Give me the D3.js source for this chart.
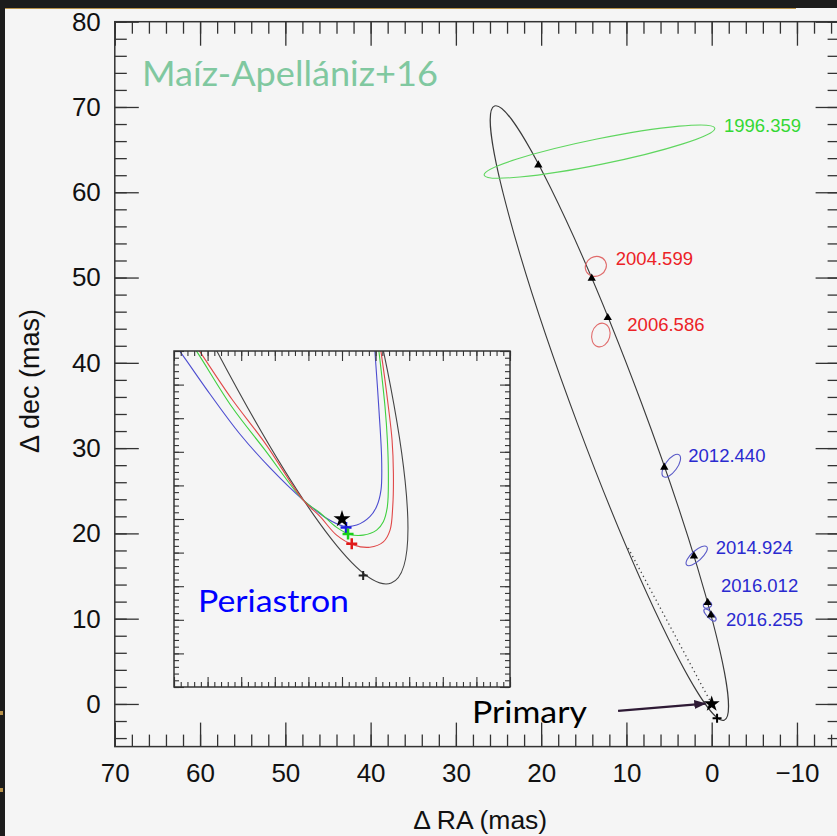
<!DOCTYPE html>
<html>
<head>
<meta charset="utf-8">
<script src="https://cdn.jsdelivr.net/npm/d3@7"></script>
<style>
body { margin: 0; background: #1c1c1c; }
svg { display: block; }
</style>
</head>
<body>
<script>
// apparent orbit of the secondary (mas, relative to primary)
const orbitCenter = [12.0, 34.11];   // [dRA, ddec]
const orbitAxes = [38.45, 3.94];     // semi-major, semi-minor
const orbitAngle = 69.5;             // deg, from +RA towards +dec

// measured positions with their error ellipses
const epochs = ["1996.359", "2004.599", "2006.586", "2012.440", "2014.924", "2016.012", "2016.255"];
const measRA = [13.16, 13.59, 13.0, 4.74, 1.76, 0.49, 0.2];
const measDec = [64.77, 51.31, 43.26, 27.93, 17.37, 11.6, 10.44];
const errA = [13.8, 1.27, 1.41, 1.58, 1.59, 0.5, 0.94];
const errB = [1.5, 1.14, 1.06, 0.7, 0.6, 0.33, 0.35];
const errAngle = [-11.5, -30, -75, -54, -42, -20, 45];

// orbit positions predicted for the same epochs
const predRA = [20.33, 14.07, 12.19, 5.56, 2.08, 0.47, 0.08];
const predDec = [63.19, 49.91, 45.29, 27.75, 17.35, 11.88, 10.43];

const primary = [0, 0];
const periastron = [-0.63, -1.68];
const nodeEnd = [9.8, 18.3];

// inset: periastron region of alternative orbit solutions
const insetBlue = [[5.3, 5.6], [4.82, 4.98], [3.93, 3.72], [3.04, 2.53], [2.14, 1.52], [1.16, 0.57], [0.46, 0.02],
  [-0.04, -0.21], [-0.44, -0.18], [-0.83, 0.07], [-1.03, 0.37], [-1.16, 0.86], [-1.18, 1.76], [-1.10, 3.24],
  [-0.98, 4.98], [-0.93, 5.6]];
const insetGreen = [[4.75, 5.6], [4.32, 4.98], [3.28, 3.34], [2.29, 2.05], [1.16, 0.57], [0.65, 0.18], [0.16, -0.25],
  [-0.24, -0.46], [-0.63, -0.48], [-1.03, -0.33], [-1.23, -0.08], [-1.35, 0.37], [-1.38, 1.36], [-1.35, 2.35],
  [-1.28, 3.34], [-1.10, 4.98], [-1.02, 5.6]];
const insetRed = [[4.65, 5.6], [4.23, 4.98], [3.28, 3.57], [2.29, 2.26], [1.16, 0.57], [0.65, 0.07], [0.16, -0.48],
  [-0.34, -0.77], [-0.83, -0.84], [-1.23, -0.68], [-1.43, -0.33], [-1.51, 0.37], [-1.53, 1.36], [-1.49, 2.35],
  [-1.38, 3.34], [-1.16, 4.98], [-1.06, 5.6]];
const insetPeri = [[-0.12, -0.25], [-0.18, -0.45], [-0.29, -0.74]]; // blue, green, red

const W = 837, H = 836;
const axisFont = "'Liberation Sans', Arial, sans-serif";
const noteFont = "Lato, 'Open Sans', sans-serif";

function epochColor(e) {
    const yr = parseFloat(e);
    if (yr < 2000) return { line: "#5fd65f", text: "#34d834" };
    if (yr < 2010) return { line: "#e06a6a", text: "#ec2226" };
    return { line: "#5a5ac8", text: "#2a2ad0" };
}

const svg = d3.select("body")
    .append("svg")
    .attr("width", W)
    .attr("height", H);

// slide background
svg.append("rect").attr("width", W).attr("height", H).attr("fill", "#f5f5f5");
svg.append("rect").attr("width", W).attr("height", 8).attr("fill", "#1c1c1c");
svg.append("rect").attr("width", 5).attr("height", H).attr("fill", "#1c1c1c");
svg.append("line").attr("x1", 5).attr("x2", 796).attr("y1", 8.5).attr("y2", 8.5)
    .attr("stroke", "#b8924a").attr("stroke-width", 1.2);

const defs = svg.append("defs");
defs.append("marker")
    .attr("id", "arrow")
    .attr("markerUnits", "userSpaceOnUse")
    .attr("markerWidth", 12).attr("markerHeight", 10)
    .attr("refX", 11).attr("refY", 4.5)
    .attr("orient", "auto")
    .append("path").attr("d", "M0,0L12,4.5L0,9z").attr("fill", "#2e1a35");

// main scales
const x = d3.scaleLinear().domain([70, -15]).range([114.8, 839.6]);
const y = d3.scaleLinear().domain([-5, 80]).range([746.6, 21.7]);

const majorX = d3.range(70, -11, -10);
const minorX = d3.range(-14, 71, 2);
const majorY = d3.range(0, 81, 10);
const minorY = d3.range(-4, 81, 2);

function styleAxis(g, size) {
    g.select(".domain").remove();
    g.selectAll(".tick line").attr("stroke", "#333").attr("stroke-width", 1.3);
    g.selectAll("text").attr("fill", "#111").style("font-family", axisFont).style("font-size", size);
}

const [x0, x1] = x.range(), [y0, y1] = y.range();

// minor ticks on all sides
svg.append("g").attr("transform", `translate(0,${y0})`)
    .call(d3.axisBottom(x).tickValues(minorX).tickSize(-12).tickFormat("")).call(styleAxis, "0px");
svg.append("g").attr("transform", `translate(0,${y1})`)
    .call(d3.axisTop(x).tickValues(minorX).tickSize(-12).tickFormat("")).call(styleAxis, "0px");
svg.append("g").attr("transform", `translate(${x0},0)`)
    .call(d3.axisLeft(y).tickValues(minorY).tickSize(-12).tickFormat("")).call(styleAxis, "0px");
svg.append("g").attr("transform", `translate(${x1},0)`)
    .call(d3.axisRight(y).tickValues(minorY).tickSize(-12).tickFormat("")).call(styleAxis, "0px");

// major ticks with labels
svg.append("g").attr("transform", `translate(0,${y0})`)
    .call(d3.axisBottom(x).tickValues(majorX).tickSize(-24).tickPadding(16.5)).call(styleAxis, "26px");
svg.append("g").attr("transform", `translate(0,${y1})`)
    .call(d3.axisTop(x).tickValues(majorX).tickSize(-24).tickFormat("")).call(styleAxis, "0px");
svg.append("g").attr("transform", `translate(${x0},0)`)
    .call(d3.axisLeft(y).tickValues(majorY).tickSize(-24).tickPadding(14)).call(styleAxis, "26px");
svg.append("g").attr("transform", `translate(${x1},0)`)
    .call(d3.axisRight(y).tickValues(majorY).tickSize(-24).tickFormat("")).call(styleAxis, "0px");

svg.append("rect")
    .attr("x", x0).attr("y", y1)
    .attr("width", x1 - x0).attr("height", y0 - y1)
    .attr("fill", "none").attr("stroke", "#333").attr("stroke-width", 1.5);

// axis titles
svg.append("text")
    .attr("x", (x0 + x1) / 2 + 3).attr("y", 829)
    .attr("text-anchor", "middle")
    .style("font-family", axisFont).style("font-size", "26.5px").attr("fill", "#111")
    .text("Δ RA (mas)");
svg.append("text")
    .attr("transform", "translate(39,381) rotate(-90)")
    .attr("text-anchor", "middle")
    .style("font-family", axisFont).style("font-size", "27px").attr("fill", "#111")
    .text("Δ dec (mas)");

// orbit
function ellipse(g, sx, sy, c, a, b, ang) {
    const s = Math.abs(sx(1) - sx(0));
    return g.append("ellipse")
        .attr("cx", sx(c[0])).attr("cy", sy(c[1]))
        .attr("rx", a * s).attr("ry", b * s)
        .attr("transform", `rotate(${ang},${sx(c[0])},${sy(c[1])})`)
        .attr("fill", "none");
}

ellipse(svg, x, y, orbitCenter, orbitAxes[0], orbitAxes[1], orbitAngle)
    .attr("stroke", "#3a3a3a").attr("stroke-width", 1.1);

// line from primary
svg.append("line")
    .attr("x1", x(primary[0])).attr("y1", y(primary[1]))
    .attr("x2", x(nodeEnd[0])).attr("y2", y(nodeEnd[1]))
    .attr("stroke", "#444").attr("stroke-width", 1.3).attr("stroke-dasharray", "1.3,3.2");

// error ellipses and epoch labels
const labelOffset = [[124.5, -19.5], [20, -1], [26.5, -4.3], [17, -3.5], [19, -2], [13.5, -13.3], [16, 11.3]];
epochs.forEach((e, i) => {
    const col = epochColor(e);
    ellipse(svg, x, y, [measRA[i], measDec[i]], errA[i], errB[i], errAngle[i])
        .attr("stroke", col.line).attr("stroke-width", 1.1);
    svg.append("text")
        .attr("x", x(measRA[i]) + labelOffset[i][0])
        .attr("y", y(measDec[i]) + labelOffset[i][1])
        .style("font-family", axisFont).style("font-size", "18.5px")
        .attr("fill", col.text)
        .text(e);
});

// predicted positions
svg.selectAll(".pred")
    .data(predRA)
    .enter()
    .append("path")
    .attr("class", "pred")
    .attr("d", d3.symbol(d3.symbolTriangle, 30))
    .attr("transform", (d, i) => `translate(${x(d)},${y(predDec[i])})`)
    .attr("fill", "#000");

const plus = r => `M${-r},0H${r}M0,${-r}V${r}`;

svg.append("path")
    .attr("d", plus(4.5))
    .attr("transform", `translate(${x(periastron[0])},${y(periastron[1])})`)
    .attr("stroke", "#000").attr("stroke-width", 2);

svg.append("path")
    .attr("d", d3.symbol(d3.symbolStar, 80))
    .attr("transform", `translate(${x(primary[0])},${y(primary[1])})`)
    .attr("fill", "#000");

// Primary annotation
svg.append("line")
    .attr("x1", x(10.98)).attr("y1", y(-0.82))
    .attr("x2", x(0.75)).attr("y2", y(0.05))
    .attr("stroke", "#2e1a35").attr("stroke-width", 2.2)
    .attr("marker-end", "url(#arrow)");
svg.append("text")
    .attr("x", 472).attr("y", 723)
    .attr("textLength", 115).attr("lengthAdjust", "spacingAndGlyphs")
    .style("font-family", noteFont).style("font-size", "31px")
    .attr("fill", "#000")
    .text("Primary");

svg.append("text")
    .attr("x", 142).attr("y", 86)
    .attr("textLength", 296).attr("lengthAdjust", "spacingAndGlyphs")
    .style("font-family", noteFont).style("font-size", "35px")
    .attr("fill", "#80c8a0")
    .text("Maíz-Apellániz+16");

// ---- inset ----
const xi = d3.scaleLinear().domain([5, -5]).range([174, 510]);
const yi = d3.scaleLinear().domain([-5, 5]).range([687, 351]);
const [xi0, xi1] = xi.range(), [yi0, yi1] = yi.range();

const inset = svg.append("g");
inset.append("rect")
    .attr("x", xi0).attr("y", yi1).attr("width", xi1 - xi0).attr("height", yi0 - yi1)
    .attr("fill", "#f5f5f5");

defs.append("clipPath").attr("id", "insetClip")
    .append("rect")
    .attr("x", xi0).attr("y", yi1).attr("width", xi1 - xi0).attr("height", yi0 - yi1);

const curves = inset.append("g").attr("clip-path", "url(#insetClip)");
ellipse(curves, xi, yi, orbitCenter, orbitAxes[0], orbitAxes[1], orbitAngle)
    .attr("stroke", "#444").attr("stroke-width", 1.1);

const line = d3.line()
    .x(d => xi(d[0]))
    .y(d => yi(d[1]))
    .curve(d3.curveCatmullRom.alpha(0.5));

const insetColors = ["#4c4cd0", "#3fd03f", "#e04848"];
[insetBlue, insetGreen, insetRed].forEach((c, i) => {
    curves.append("path")
        .attr("d", line(c))
        .attr("fill", "none")
        .attr("stroke", insetColors[i])
        .attr("stroke-width", 1.1);
});

const insetMajor = d3.range(-5, 5.01, 1);
const insetMinor = d3.range(-5, 5.01, 0.2);
[[insetMinor, 5], [insetMajor, 10]].forEach(([vals, len]) => {
    inset.append("g").attr("transform", `translate(0,${yi0})`)
        .call(d3.axisBottom(xi).tickValues(vals).tickSize(-len).tickFormat("")).call(styleAxis, "0px");
    inset.append("g").attr("transform", `translate(0,${yi1})`)
        .call(d3.axisTop(xi).tickValues(vals).tickSize(-len).tickFormat("")).call(styleAxis, "0px");
    inset.append("g").attr("transform", `translate(${xi0},0)`)
        .call(d3.axisLeft(yi).tickValues(vals).tickSize(-len).tickFormat("")).call(styleAxis, "0px");
    inset.append("g").attr("transform", `translate(${xi1},0)`)
        .call(d3.axisRight(yi).tickValues(vals).tickSize(-len).tickFormat("")).call(styleAxis, "0px");
});
inset.selectAll(".tick line").attr("stroke-width", 1.1);

inset.append("rect")
    .attr("x", xi0).attr("y", yi1).attr("width", xi1 - xi0).attr("height", yi0 - yi1)
    .attr("fill", "none").attr("stroke", "#333").attr("stroke-width", 1.5);

inset.append("path")
    .attr("d", plus(4.5))
    .attr("transform", `translate(${xi(periastron[0])},${yi(periastron[1])})`)
    .attr("stroke", "#222").attr("stroke-width", 2);

const periColors = ["#1a1ae0", "#18d018", "#e01818"];
insetPeri.forEach((p, i) => {
    inset.append("path")
        .attr("d", plus(5.5))
        .attr("transform", `translate(${xi(p[0])},${yi(p[1])})`)
        .attr("stroke", periColors[i]).attr("stroke-width", 2.5);
});

inset.append("path")
    .attr("d", d3.symbol(d3.symbolStar, 90))
    .attr("transform", `translate(${xi(primary[0])},${yi(primary[1])})`)
    .attr("fill", "#000");

inset.append("text")
    .attr("x", 198).attr("y", 612)
    .attr("textLength", 151).attr("lengthAdjust", "spacingAndGlyphs")
    .style("font-family", noteFont).style("font-size", "30px")
    .attr("fill", "#0000ff")
    .text("Periastron");

// small marks on the slide edge
[713, 790].forEach(v => {
    svg.append("rect").attr("x", 0).attr("y", v - 2).attr("width", 3).attr("height", 4).attr("fill", "#b8924a");
});
</script>
</body>
</html>
